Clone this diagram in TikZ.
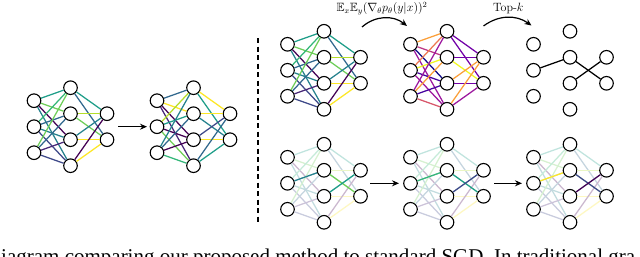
\documentclass[tikz,border=0pt]{standalone}
\usepackage{amssymb}
\usepackage{fontspec}
\newfontfamily\capfont{Liberation Serif}
\usetikzlibrary{arrows.meta}
% viridis
\definecolor{vA}{HTML}{440154}
\definecolor{vB}{HTML}{482878}
\definecolor{vC}{HTML}{3E4989}
\definecolor{vD}{HTML}{31688E}
\definecolor{vE}{HTML}{26828E}
\definecolor{vF}{HTML}{1F9E89}
\definecolor{vG}{HTML}{35B779}
\definecolor{vH}{HTML}{6ECE58}
\definecolor{vI}{HTML}{B5DE2B}
\definecolor{vJ}{HTML}{FDE725}
% plasma
\definecolor{pA}{HTML}{0D0887}
\definecolor{pB}{HTML}{46039F}
\definecolor{pC}{HTML}{7201A8}
\definecolor{pD}{HTML}{9C179E}
\definecolor{pE}{HTML}{BD3786}
\definecolor{pF}{HTML}{D8576B}
\definecolor{pG}{HTML}{ED7953}
\definecolor{pH}{HTML}{FB9F3A}
\definecolor{pI}{HTML}{FDCA26}
\definecolor{pJ}{HTML}{F0F921}
\tikzset{
  nd/.style={circle, draw=black, fill=white, line width=1.1pt, minimum size=13.6pt, inner sep=0pt},
  edgeline/.style={line width=1.25pt},
  arr/.style={line width=1.2pt, -{Stealth[length=7pt,width=6pt]}},
  lbl/.style={font=\fontsize{12}{14}\selectfont, inner sep=0pt, anchor=base},
}
\newcommand\mknet[3]{%
  \foreach \k/\dy in {1/-26,2/0,3/26} \node[nd] (#1-i\k) at ({#2},{#3+(\dy)}) {};
  \foreach \k/\dy in {1/-39,2/-13,3/13,4/39} \node[nd] (#1-h\k) at ({#2+36.5},{#3+(\dy)}) {};
  \foreach \k/\dy in {1/-13,2/13} \node[nd] (#1-o\k) at ({#2+73},{#3+(\dy)}) {};
}
\newcommand\wire[3]{\foreach \a/\b/\c in #2 {\draw[edgeline,draw=\c#3] (#1-\a) -- (#1-\b);}}
\def\eLone{i1/h1/vF,i1/h2/vH,i1/h3/vA,i1/h4/vE,i2/h1/vG,i2/h2/vD,i2/h3/vE,i2/h4/vC,i3/h1/vH,i3/h2/vD,i3/h3/vB,i3/h4/vC,h1/o1/vF,h1/o2/vD,h2/o1/vI,h2/o2/vH,h3/o1/vE,h3/o2/vJ,h4/o1/vA,h4/o2/vJ}
\def\eLtwo{i1/h1/vD,i1/h2/vJ,i1/h3/vA,i1/h4/vB,i2/h1/vI,i2/h2/vF,i2/h3/vA,i2/h4/vH,i3/h1/vE,i3/h2/vD,i3/h3/vA,i3/h4/vG,h1/o1/vJ,h1/o2/vF,h2/o1/vJ,h2/o2/vE,h3/o1/vC,h3/o2/vJ,h4/o1/vD,h4/o2/vF}
\def\eTtwo{i1/h1/pH,i1/h2/pE,i1/h3/pA,i1/h4/pD,i2/h1/pG,i2/h2/pJ,i2/h3/pB,i2/h4/pD,i3/h1/pD,i3/h2/pH,i3/h3/pB,i3/h4/pF,h1/o1/pC,h1/o2/pC,h2/o1/pC,h2/o2/pJ,h3/o1/pH,h3/o2/pC,h4/o1/pH,h4/o2/pD}
\begin{document}
\begin{tikzpicture}[x=1pt,y=-1pt]
\clip (0,0) rectangle (640,257);
\fill[white] (0,0) rectangle (640,257);
% left nets
\mknet{LA}{34}{126.7}
\mknet{LB}{157}{126.7}
\wire{LA}{\eLone}{}
\wire{LB}{\eLtwo}{}
\coordinate (la1) at (118,126.7);
\coordinate (la2) at (147,126.7);
\draw[arr] (la1) -- (la2);
% divider
\coordinate (d1) at (258,38);
\coordinate (d2) at (258,222);
\draw[line width=1.2pt, dash pattern=on 5pt off 3.5pt] (d1) -- (d2);
% top nets
\mknet{TA}{287.5}{70.3}
\mknet{TB}{410.5}{70.3}
\mknet{TC}{533.5}{70.3}
\wire{TA}{\eLone}{}
\wire{TB}{\eTtwo}{}
\draw[edgeline] (TC-i2) -- (TC-h2);
\draw[edgeline] (TC-h2) -- (TC-o2);
\draw[edgeline] (TC-h3) -- (TC-o1);
\coordinate (ca1) at (362,27);
\coordinate (ca2) at (407,26);
\draw[arr] (ca1) to[bend left=40] (ca2);
\coordinate (cb1) at (483.5,26);
\coordinate (cb2) at (531.5,25.5);
\draw[arr] (cb1) to[bend left=36] (cb2);
\node[lbl] (grad) at (382,11.5) {$\mathbb{E}_x\mathbb{E}_y(\nabla_\theta p_\theta(y|x))^2$};
\node[lbl] (topk) at (508.3,11) {Top-$k$};
% bottom nets
\mknet{BA}{287.5}{183.3}
\mknet{BB}{410.5}{183.3}
\mknet{BC}{533.5}{183.3}
\wire{BA}{\eLone}{!28}
\wire{BB}{\eLone}{!28}
\wire{BC}{\eLone}{!28}
\draw[edgeline,vE] (BA-i2) -- (BA-h2);
\draw[edgeline,vH] (BA-h2) -- (BA-o2);
\draw[edgeline,vF] (BA-h3) -- (BA-o1);
\draw[edgeline,vG] (BB-i2) -- (BB-h2);
\draw[edgeline,vF] (BB-h2) -- (BB-o2);
\draw[edgeline,vC] (BB-h3) -- (BB-o1);
\draw[edgeline,vJ] (BC-i2) -- (BC-h2);
\draw[edgeline,vC] (BC-h2) -- (BC-o2);
\draw[edgeline,vA] (BC-h3) -- (BC-o1);
\coordinate (ba1) at (370,183.3);
\coordinate (ba2) at (399,183.3);
\draw[arr] (ba1) -- (ba2);
\coordinate (bb1) at (494,183.3);
\coordinate (bb2) at (522,183.3);
\draw[arr] (bb1) -- (bb2);
% caption fragment
\node[anchor=base west, inner sep=0pt, font=\capfont\fontsize{21}{25}\selectfont] (cap) at (1,263) {iagram comparing our proposed method to standard SGD. In traditional gra};
\end{tikzpicture}
\end{document}
